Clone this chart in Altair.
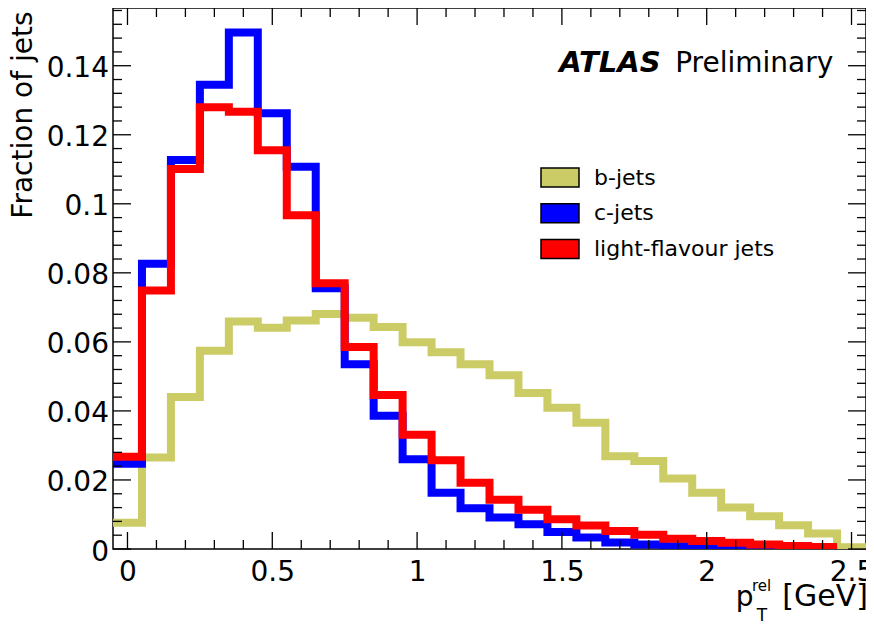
import altair as alt
import pandas as pd

# ---------------- data ----------------
bin_centers = [round(0.1 * i, 1) for i in range(26)]
bin_width = 0.1

b_jets = [0.0076, 0.0265, 0.0440, 0.0574, 0.0659, 0.0641, 0.0662, 0.0681, 0.0670,
          0.0643, 0.0599, 0.0570, 0.0535, 0.0503, 0.0452, 0.0409, 0.0366, 0.0269,
          0.0255, 0.0204, 0.0163, 0.0120, 0.0095, 0.0069, 0.0045, 0.0005]
c_jets = [0.0247, 0.0826, 0.1127, 0.1345, 0.1496, 0.1262, 0.1107, 0.0755, 0.0535,
          0.0386, 0.0260, 0.0163, 0.0118, 0.0091, 0.0072, 0.0049, 0.0033, 0.0019,
          0.0013, 0.0008, 0.0005, 0.0004, 0.0003, 0.0002, 0.0002, None]
light_jets = [0.0267, 0.0749, 0.1101, 0.1280, 0.1267, 0.1155, 0.0967, 0.0770, 0.0585,
              0.0446, 0.0331, 0.0257, 0.0192, 0.0143, 0.0114, 0.0086, 0.0068, 0.0052,
              0.0041, 0.0030, 0.0023, 0.0018, 0.0013, 0.0009, 0.0006, None]

series_names = ["b-jets", "c-jets", "light-flavour jets"]
series_colors = ["#cccc66", "#0000ff", "#ff0000"]

x_major = [0, 0.5, 1, 1.5, 2, 2.5]
x_minor = [round(0.1 * i, 1) for i in range(26) if i % 5 != 0]
y_major = [0, 0.02, 0.04, 0.06, 0.08, 0.1, 0.12, 0.14]
y_minor = [round(0.004 * i, 3) for i in range(1, 40) if i % 5 != 0]

y_title = "Fraction of jets"
atlas_bold = "ATLAS"
atlas_rest = "Preliminary"
x_title_main = "p"
x_title_sup = "rel"
x_title_sub = "T"
x_title_unit = "[GeV]"

# ---------------- table ----------------
rows = []
for name, vals in zip(series_names, [b_jets, c_jets, light_jets]):
    last = None
    for c, v in zip(bin_centers, vals):
        if v is None:
            break
        rows.append({"series": name, "edge": round(c - bin_width / 2, 2), "frac": v})
        last = (c, v)
    rows.append({"series": name, "edge": round(last[0] + bin_width / 2, 2), "frac": last[1]})
hist_df = pd.DataFrame(rows)

FONT = "DejaVu Sans"
W, H = 753, 541
xs = alt.Scale(domain=[-0.05, 2.55], nice=False, zero=False)
ys = alt.Scale(domain=[0, 0.15672], nice=False, zero=False)

x_axis = alt.Axis(values=x_major, format=".1~f", ticks=False, tickSize=0, domain=False,
                  grid=False, labelFont=FONT, labelFontSize=28, labelColor="black",
                  labelPadding=9, labelFlush=False, labelOverlap=False, title=None)
y_axis = alt.Axis(values=y_major, format=".2~f", ticks=False, tickSize=0, domain=False,
                  grid=False, labelFont=FONT, labelFontSize=28, labelColor="black",
                  labelPadding=4.5, labelOffset=3, labelOverlap=False,
                  title=y_title, titleFont=FONT, titleFontSize=28, titleFontWeight="normal",
                  titleColor="black", titleAngle=270, titleAlign="right",
                  titleBaseline="middle", titleX=-89.4, titleY=3)


def hist_layer(name, color):
    return alt.Chart(hist_df).transform_filter(alt.datum.series == name).mark_line(
        interpolate="step-after", strokeWidth=8, clip=True, strokeJoin="miter", strokeCap="butt"
    ).encode(
        x=alt.X("edge:Q", scale=xs, axis=x_axis),
        y=alt.Y("frac:Q", scale=ys, axis=y_axis),
        stroke=alt.value(color),
    )


legend_layer = alt.Chart(hist_df).mark_square(opacity=0, filled=True).encode(
    x=alt.X("edge:Q", scale=xs, axis=x_axis),
    y=alt.Y("frac:Q", scale=ys, axis=y_axis),
    fill=alt.Fill("series:N", scale=alt.Scale(domain=series_names, range=series_colors),
                  legend=alt.Legend(orient="none", legendX=433.5, legendY=156, title=None,
                                    symbolType="M-1.5,-0.75H1.5V0.75H-1.5Z", symbolSize=641.6,
                                    symbolStrokeColor="black", symbolStrokeWidth=1.5,
                                    symbolOpacity=1, labelFont=FONT, labelFontSize=22,
                                    labelColor="black", labelOffset=20.5, rowPadding=9.7,
                                    labelLimit=400, padding=0)),
)


def tick_layer(vals, side, length):
    base = alt.Chart(pd.DataFrame({"v": vals})).mark_rule(color="black", strokeWidth=1.3)
    if side == "bottom":
        enc = dict(x=alt.X("v:Q", scale=xs, axis=x_axis), y=alt.value(H), y2=alt.value(H - length))
    elif side == "top":
        enc = dict(x=alt.X("v:Q", scale=xs, axis=x_axis), y=alt.value(0), y2=alt.value(length))
    elif side == "left":
        enc = dict(y=alt.Y("v:Q", scale=ys, axis=y_axis), x=alt.value(0), x2=alt.value(length))
    else:
        enc = dict(y=alt.Y("v:Q", scale=ys, axis=y_axis), x=alt.value(W), x2=alt.value(W - length))
    return base.encode(**enc)


def text_layer(txt, x, y, size, align="left", style="normal", weight="normal"):
    return alt.Chart(pd.DataFrame({"t": [txt]})).mark_text(
        font=FONT, fontSize=size, align=align, baseline="alphabetic",
        fontStyle=style, fontWeight=weight, color="black"
    ).encode(x=alt.value(x), y=alt.value(y), text="t:N")


layers = [
    hist_layer(series_names[0], series_colors[0]),
    hist_layer(series_names[1], series_colors[1]),
    hist_layer(series_names[2], series_colors[2]),
    legend_layer,
    tick_layer(x_major, "bottom", 17), tick_layer(x_minor, "bottom", 9),
    tick_layer(x_major, "top", 17), tick_layer(x_minor, "top", 9),
    tick_layer(y_major, "left", 18), tick_layer(y_minor, "left", 9),
    tick_layer(y_major, "right", 18), tick_layer(y_minor, "right", 9),
    text_layer(atlas_bold, 446.3, 63.7, 29, style="italic", weight="bold"),
    text_layer(atlas_rest, 720.3, 63.7, 28, align="right"),
    text_layer(x_title_main, 622.8, 598.3, 28),
    text_layer(x_title_sup, 639.0, 582.7, 15),
    text_layer(x_title_sub, 643.8, 613.0, 17),
    text_layer(x_title_unit, 755.0, 598.3, 30, align="right"),
]

chart = alt.layer(*layers).properties(
    width=W, height=H,
    padding={"left": 105, "top": 0, "right": 0, "bottom": 73},
    autosize=alt.AutoSizeParams(type="none"),
    background="white",
).configure_view(stroke="black", strokeWidth=1.5)

chart.save("out.html", embed_options={"renderer": "svg", "actions": False})
